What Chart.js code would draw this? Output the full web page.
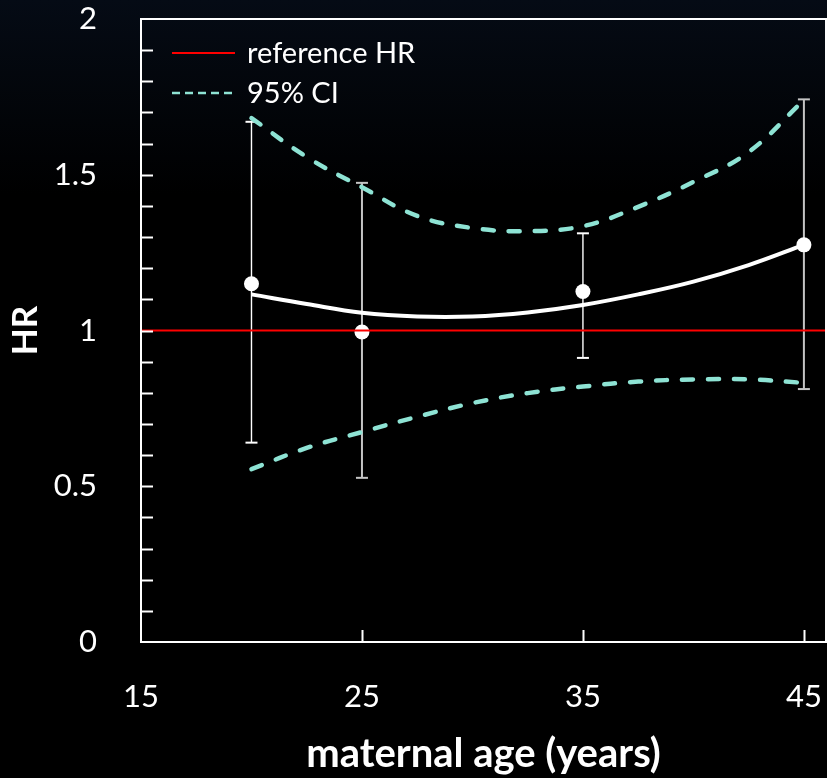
<!DOCTYPE html>
<html>
<head>
<meta charset="utf-8">
<title>HR by maternal age</title>
<script src="https://cdn.jsdelivr.net/npm/chart.js@4.4.1/dist/chart.umd.min.js"></script>
<style>
    html, body { margin: 0; padding: 0; background: #000; }
    #wrap { width: 827px; height: 778px; }
</style>
</head>
<body>
<div id="wrap"><canvas id="hrChart" width="827" height="778"></canvas></div>
<script>
// observed HR per age group, with 95% CI whiskers
const pointAges = [20, 25, 35, 45];
const pointHR = [1.15, 0.995, 1.125, 1.275];
const pointLow = [0.64, 0.527, 0.912, 0.812];
const pointHigh = [1.67, 1.474, 1.312, 1.742];

const fitAges = [20, 22.5, 25, 27.5, 30, 32.5, 35, 37.5, 40, 42.5, 45];
const fitHR = [1.116, 1.085, 1.057, 1.045, 1.045, 1.058, 1.082, 1.116, 1.157, 1.21, 1.275];
const ciUpper = [1.682, 1.557, 1.46, 1.368, 1.329, 1.319, 1.335, 1.397, 1.477, 1.573, 1.74];
const ciLower = [0.555, 0.623, 0.674, 0.723, 0.767, 0.799, 0.82, 0.836, 0.843, 0.843, 0.832];

const referenceHR = 1;
const xRange = [15, 46];
const yRange = [0, 2];
const xTicks = [15, 25, 35, 45];
const yTicks = [0, 0.5, 1, 1.5, 2];
const yMinorStep = 0.1;

const WHITE = '#ffffff';
const GREY = '#c4c4c4';
const TEAL = '#8ee3d4';
const RED = '#ff0000';

Chart.defaults.font.family = 'Lato';
Chart.defaults.color = WHITE;

const toXY = (xs, ys) => xs.map((x, i) => ({ x: x, y: ys[i] }));

// fixed axis boxes, no extra label padding pushed into the layout
function fixBox(size, key) {
    return (s) => {
        s[key] = size;
        s.paddingLeft = s.paddingRight = s.paddingTop = s.paddingBottom = 0;
    };
}

// whiskers: one tiny line dataset per age, caps drawn as 'line' points
const whiskerColors = [WHITE, GREY, WHITE, GREY];
const whiskerDatasets = pointAges.map((age, i) => ({
    label: 'CI ' + age,
    data: [{ x: age, y: pointLow[i] }, { x: age, y: pointHigh[i] }],
    borderColor: whiskerColors[i],
    borderWidth: i % 2 ? 2 : 1.4,
    pointStyle: 'line',
    pointRadius: 6,
    pointBorderColor: whiskerColors[i],
    pointBorderWidth: 2,
    order: 4
}));

const ciStyle = {
    borderColor: TEAL,
    borderWidth: 4.5,
    borderDash: [11, 15],
    borderCapStyle: 'round',
    pointRadius: 0,
    tension: 0.4,
    order: 3
};

// Background with a faint blue tint at the top
const bgPlugin = {
    id: 'bg',
    beforeDraw(chart) {
        const { ctx, width, height } = chart;
        const g = ctx.createLinearGradient(0, 0, 0, height);
        g.addColorStop(0, '#050b15');
        g.addColorStop(0.25, '#000000');
        g.addColorStop(1, '#000000');
        ctx.save();
        ctx.fillStyle = g;
        ctx.fillRect(0, 0, width, height);
        ctx.restore();
    }
};

// Box frame + inward tick marks
const framePlugin = {
    id: 'frame',
    afterDraw(chart) {
        const { ctx, chartArea: a, scales } = chart;
        ctx.save();
        ctx.strokeStyle = WHITE;
        ctx.lineWidth = 2;
        ctx.strokeRect(a.left, a.top, a.right - a.left, a.bottom - a.top);

        ctx.beginPath();
        for (let v = yRange[0] + yMinorStep; v < yRange[1] - 1e-6; v += yMinorStep) {
            const py = Math.round(scales.y.getPixelForValue(v)) + 0.5;
            ctx.moveTo(a.left, py);
            ctx.lineTo(a.left + 12, py);
        }
        xTicks.slice(1).forEach((v) => {
            const px = Math.round(scales.x.getPixelForValue(v)) + 0.5;
            ctx.moveTo(px, a.bottom);
            ctx.lineTo(px, a.bottom - 12);
        });
        ctx.stroke();
        ctx.restore();
    }
};

// Legend drawn inside the plot area, top-left
const insideLegend = {
    id: 'insideLegend',
    afterDraw(chart) {
        const { ctx, chartArea: a } = chart;
        const items = chart.data.datasets.filter((d) => d.inLegend);
        ctx.save();
        ctx.font = '29px Lato';
        ctx.textBaseline = 'middle';
        ctx.fillStyle = WHITE;
        items.forEach((d, i) => {
            const y = a.top + 34 + i * 40;
            ctx.beginPath();
            ctx.strokeStyle = d.borderColor;
            ctx.lineWidth = d.legendWidth;
            ctx.setLineDash(d.legendDash);
            ctx.moveTo(a.left + 31, y);
            ctx.lineTo(a.left + 94, y);
            ctx.stroke();
            ctx.setLineDash([]);
            ctx.fillText(d.label, a.left + 106, y + 1);
        });
        ctx.restore();
    }
};

new Chart(document.getElementById('hrChart'), {
    type: 'line',
    data: {
        datasets: [
            {
                label: 'reference HR',
                inLegend: true,
                legendWidth: 2,
                legendDash: [],
                data: toXY(xRange, [referenceHR, referenceHR]),
                borderColor: RED,
                borderWidth: 1.8,
                pointRadius: 0,
                order: 0
            },
            {
                label: 'observed',
                data: toXY(pointAges, pointHR),
                showLine: false,
                pointRadius: 7.5,
                pointBackgroundColor: WHITE,
                pointBorderColor: WHITE,
                pointBorderWidth: 0,
                order: 1
            },
            {
                label: 'fit',
                data: toXY(fitAges, fitHR),
                borderColor: WHITE,
                borderWidth: 4,
                pointRadius: 0,
                tension: 0.4,
                order: 2
            },
            Object.assign({ label: '95% CI', inLegend: true, legendWidth: 2.5, legendDash: [8, 5], data: toXY(fitAges, ciUpper) }, ciStyle),
            Object.assign({ label: 'CI lower', data: toXY(fitAges, ciLower) }, ciStyle),
            ...whiskerDatasets
        ]
    },
    options: {
        responsive: false,
        animation: false,
        events: [],
        layout: { autoPadding: false, padding: { top: 19, right: 1, left: 0, bottom: 0 } },
        plugins: {
            legend: { display: false },
            tooltip: { enabled: false }
        },
        scales: {
            x: {
                type: 'linear',
                min: xRange[0],
                max: xRange[1],
                afterBuildTicks: (s) => { s.ticks = xTicks.map((v) => ({ value: v })); },
                afterFit: fixBox(136, 'height'),
                grid: { display: false },
                border: { display: false },
                ticks: {
                    color: WHITE,
                    font: { size: 31 },
                    padding: 28,
                    autoSkip: false,
                    maxRotation: 0,
                    callback: (v) => String(v)
                },
                title: {
                    display: true,
                    text: 'maternal age (years)',
                    color: WHITE,
                    font: { size: 40, weight: 'bold' },
                    padding: { top: 0, bottom: 0 }
                }
            },
            y: {
                type: 'linear',
                min: yRange[0],
                max: yRange[1],
                afterBuildTicks: (s) => { s.ticks = yTicks.map((v) => ({ value: v })); },
                afterFit: fixBox(141, 'width'),
                grid: { display: false },
                border: { display: false },
                ticks: {
                    color: WHITE,
                    font: { size: 31 },
                    padding: 36,
                    callback: (v) => String(v)
                },
                title: {
                    display: true,
                    text: 'HR',
                    color: WHITE,
                    font: { size: 35, weight: 'bold' },
                    padding: { top: 5, bottom: 0 }
                }
            }
        }
    },
    plugins: [bgPlugin, framePlugin, insideLegend]
});
</script>
</body>
</html>
